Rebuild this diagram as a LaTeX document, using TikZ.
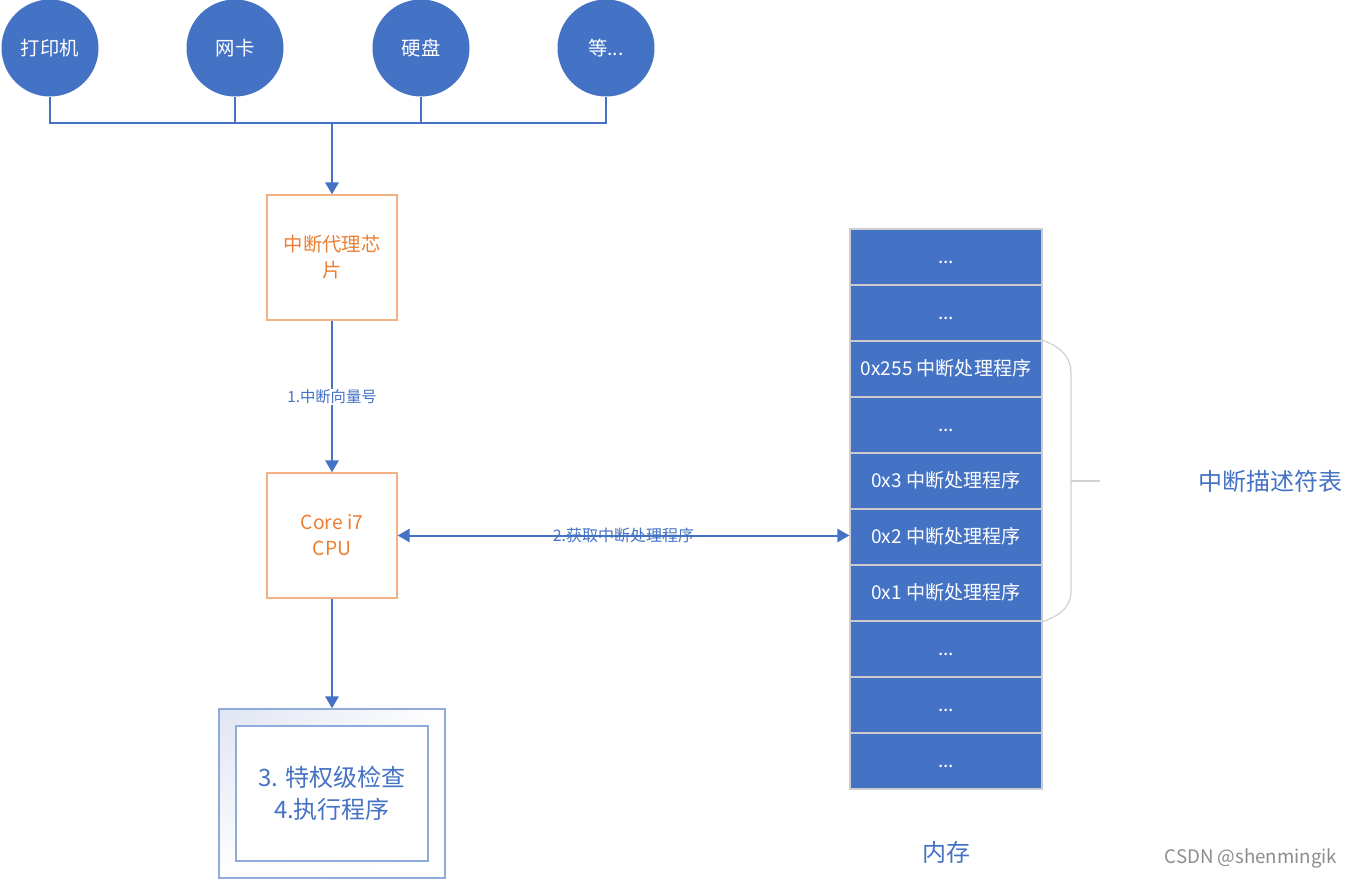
\documentclass[tikz,border=0pt]{standalone}
\usepackage{fontspec}
\setmainfont{Noto Sans CJK SC}
\usetikzlibrary{arrows.meta, shadings}
\definecolor{myblue}{HTML}{4472C4}
\definecolor{myorange}{HTML}{ED7D31}
\definecolor{lightorange}{HTML}{F4B183}
\definecolor{frameblue}{HTML}{8FAADC}
\definecolor{shadeblue}{HTML}{E0E5F3}

\begin{document}
\begin{tikzpicture}[x=0.75pt, y=-0.75pt,
        dev/.style={circle, fill=myblue, minimum size=72.75pt, inner sep=0pt, text=white, font=\fontsize{14.5}{17}\selectfont},
        chip/.style={draw=lightorange, line width=1pt, minimum width=97.5pt, minimum height=93.75pt, align=center, text=myorange, font=\fontsize{14.5}{19.5}\selectfont},
        cell/.style={draw=black!20, fill=myblue, line width=1pt, minimum width=144pt, minimum height=42pt, inner sep=0pt, text height=12pt, text depth=1.7pt, text=white, font=\fontsize{14.3}{17}\selectfont},
        wire/.style={draw=myblue, line width=1.5pt},
        arr/.style={wire, -{Triangle[length=9pt,width=10pt]}},
        note/.style={text=myblue, font=\fontsize{18}{24}\selectfont}
    ]
        \useasboundingbox (0,0) rectangle (1355,880);
        \node[dev] (printer) at (50, 48) {打印机};
        \node[dev] (nic) at (235, 48) {网卡};
        \node[dev] (disk) at (421, 48) {硬盘};
        \node[dev] (etc) at (606, 48) {等...};
        \coordinate (bus) at (332, 123);
        \draw[wire] (printer.south) |- (etc.south |- bus) -- (etc.south);
        \draw[wire] (nic.south) -- (nic.south |- bus);
        \draw[wire] (disk.south) -- (disk.south |- bus);
        \node[chip] (agent) at (332, 257.5) {中断代理芯\\片};
        \node[chip] (cpu) at (332, 535.5) {Core i7\\CPU};
        \draw[arr] (bus) -- (agent.north);
        \draw[arr] (agent.south) -- (cpu.north);
        \node[fill=white, inner sep=1pt, text=myblue, font=\fontsize{11.5}{13}\selectfont] (vec) at (332, 397) {1.中断向量号};
        \node[draw=frameblue, line width=1pt, minimum width=169.5pt, minimum height=126.75pt, upper left=shadeblue, upper right=white, lower left=white, lower right=white] (check) at (332, 793.5) {};
        \node[draw=frameblue, line width=1pt, fill=white, minimum width=144pt, minimum height=101.25pt, align=center, note] (run) at (332, 793.5) {3. 特权级检查\\4.执行程序};
        \draw[arr] (cpu.south) -- (check.north);
        \node[cell] (mem1) at (946, 257) {...};
        \node[cell] (mem2) at (946, 313) {...};
        \node[cell] (mem3) at (946, 369) {0x255 中断处理程序};
        \node[cell] (mem4) at (946, 425) {...};
        \node[cell] (mem5) at (946, 481) {0x3 中断处理程序};
        \node[cell] (mem6) at (946, 537) {0x2 中断处理程序};
        \node[cell] (mem7) at (946, 593) {0x1 中断处理程序};
        \node[cell] (mem8) at (946, 649) {...};
        \node[cell] (mem9) at (946, 705) {...};
        \node[cell] (mem10) at (946, 761) {...};
        \draw[wire, {Triangle[length=9pt,width=10pt]}-{Triangle[length=9pt,width=10pt]}] (cpu.east) -- (cpu.east -| mem6.west) node[midway, text=myblue, font=\fontsize{12}{14}\selectfont] (fetch) {2.获取中断处理程序};
        \draw[black!18, line width=0.9pt] (mem3.north east) .. controls (1064, 348) and (1071, 360) .. (1071, 373) -- (1071, 591) .. controls (1071, 604) and (1064, 614) .. (mem7.south east);
        \draw[black!18, line width=0.9pt] (1071, 481) -- (1100, 481);
        \node[note] (idt) at (1270, 481) {中断描述符表};
        \node[note] (ram) at (946, 852) {内存};
        \node[text=black!45, font=\fontsize{14}{16}\selectfont] (mark) at (1251, 858) {CSDN @shenmingik};
    \end{tikzpicture}
\end{document}
